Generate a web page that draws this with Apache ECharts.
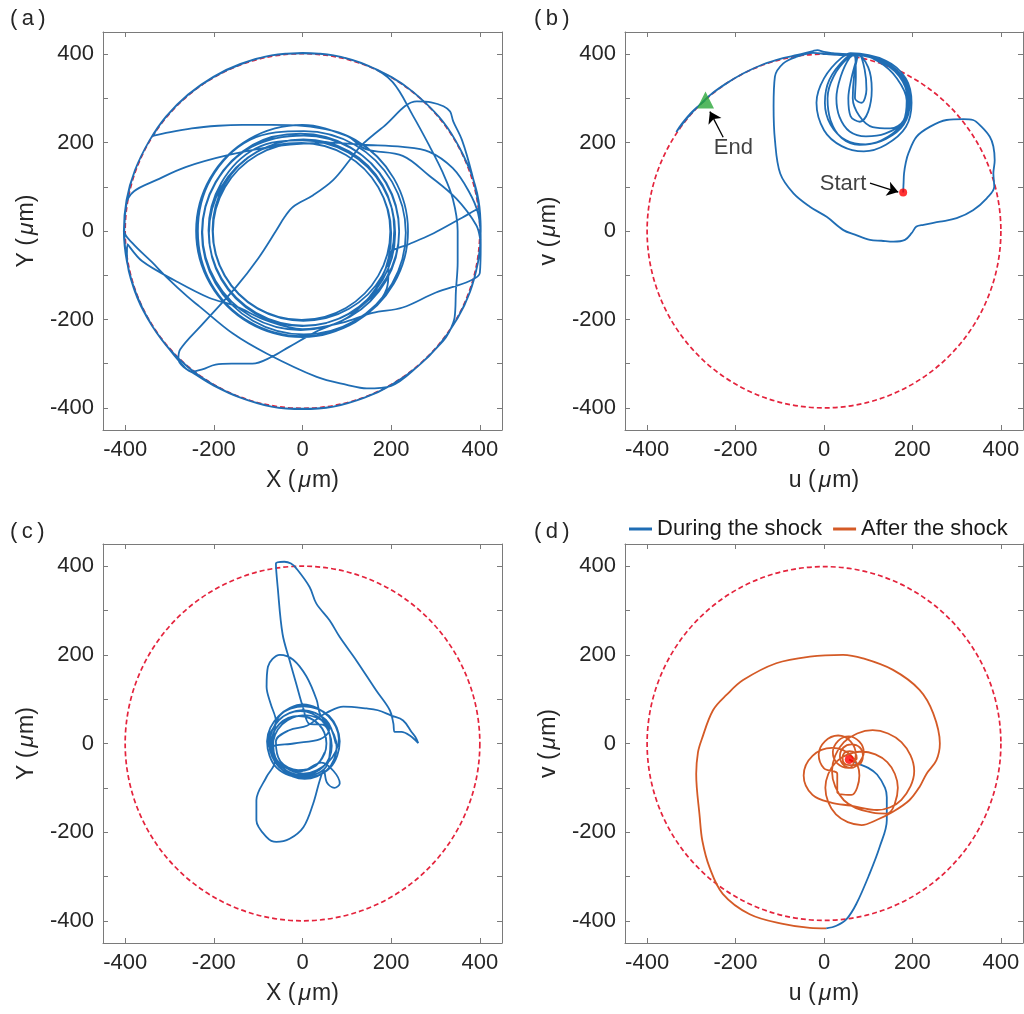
<!DOCTYPE html>
<html>
<head>
<meta charset="utf-8">
<script src="https://cdn.jsdelivr.net/npm/echarts@6/dist/echarts.min.js"></script>
<style>
  html, body { margin: 0; padding: 0; background: #fff; }
  #chart { width: 1024px; height: 1014px; }
</style>
</head>
<body>
<div id="chart"></div>
<script>
// tick positions / labels
const tickLabels = [-400, -200, 0, 200, 400];
const xTicks = [-400, -200, 0, 200, 400];
const yTicks = [-400, -300, -200, -100, 0, 100, 200, 300, 400];

// chamber wall: centre x, centre y, radius (um)
const boundary = [[0, 0, 400]];

// (a) trajectory in the lab frame
const trajA = [
  [0,-402],[70,-397],[140,-377],[201,-348],[260,-306],[308,-258],[350,-197],[378,-137],[396,-70],[402,0],[397,70],[378,137],[345,205],[308,258],[250,314],[201,348],[140,377],[70,397],[0,403],[-70,397],[-140,378],[-201,349],[-258,309],[-308,259],[-338,215],
  [-315,220],[-250,232],[-190,238],[-136,240],[-70,240],
  [0,238],[119,206],[206,119],[238,0],[206,-119],[119,-206],[0,-238],[-119,-206],[-206,-119],[-236,0],[-206,119],[-119,206],
  [3,226],[118,195],[202,111],[233,-4],[202,-119],[118,-203],[3,-234],[-112,-203],[-196,-119],[-227,-4],[-196,111],[-112,195],
  [-4,220],[107,190],[188,109],[218,-2],[188,-113],[107,-194],[-4,-224],[-115,-194],[-196,-113],[-226,-2],[-196,109],[-115,190],
  [3,216],[110,187],[189,109],[218,1],[189,-107],[110,-185],[3,-214],[-105,-185],[-183,-107],[-212,1],[-183,109],[-105,187],
  [-1,205],[104,177],[181,100],[209,-5],[181,-110],[104,-187],[-1,-215],[-106,-187],[-183,-110],[-211,-5],[-183,100],[-106,177],
  [2,207],[105,180],[180,105],[207,2],[180,-101],[105,-176],[2,-203],[-101,-176],[-176,-101],[-203,2],[-176,105],[-101,180],
  [-2,199],[98,172],[171,99],[198,-1],[171,-101],[98,-174],[-2,-201],[-102,-174],[-175,-101],[-202,-1],[-175,99],[-102,172],
  [-2,199],[98,172],[171,99],[200,-5],[178,-108],[110,-190],[30,-228],
  [-30,-262],[-70,-285],[-113,-300],[-160,-300],[-196,-302],[-226,-313],[-250,-318],[-266,-308],
  [-300,-268],[-340,-213],[-372,-150],[-394,-78],[-402,0],[-398,60],
  [-380,90],[-330,115],[-262,145],[-166,172],[-60,192],[60,200],[137,195],[226,190],[286,179],[339,142],[375,90],[396,40],
  [402,-20],[396,-70],[378,-137],[345,-205],[308,-258],[260,-306],[201,-348],[140,-377],[70,-397],[0,-403],[-70,-397],[-140,-377],[-201,-349],[-245,-322],
  [-268,-308],[-280,-290],[-276,-268],[-226,-211],[-151,-128],[-100,-62],[-60,0],[-40,32],[-21,55],[24,81],[69,115],[107,161],[130,191],[183,236],[258,293],[290,291],[318,282],[333,270],[340,248],[360,205],[382,130],[397,60],
  [402,0],[396,-70],[378,-137],[345,-205],[308,-258],[260,-306],[201,-348],[140,-377],[70,-397],[0,-402],[-70,-397],[-140,-377],[-201,-348],[-258,-308],[-308,-258],[-350,-197],[-378,-137],[-396,-70],[-403,0],[-397,70],[-378,137],[-345,205],[-308,258],[-258,308],[-201,348],[-140,377],[-70,397],[0,402],[70,397],[150,373],
  [203,337],[249,261],[286,193],[316,133],[339,73],[350,0],[350,-70],[346,-136],[343,-196],[330,-230],[316,-250],
  [260,-306],[201,-348],[140,-377],[70,-397],[0,-402],[-70,-397],[-140,-377],[-201,-348],[-258,-308],[-308,-258],[-350,-197],[-378,-137],[-396,-60],
  [-395,-30],[-362,-68],[-286,-113],[-211,-151],[-151,-170],[-80,-203],[0,-222],[90,-207],
  [158,-185],[226,-173],[301,-139],[377,-113],[400,-95],
  [402,-30],[400,40],[390,100],[378,137],[345,205],[308,258],[250,314],[201,348],[140,377],[70,397],[0,402],[-70,397],[-140,378],[-201,349],[-258,309],[-308,259],[-345,205],[-378,137],[-396,70],[-402,0],
  [-383,-28],[-340,-70],[-308,-103],[-260,-148],[-232,-171],[-157,-232],[-81,-277],[32,-330],[100,-348],[145,-356],[200,-350],
  [260,-306],[308,-258],[350,-197],[378,-137],[396,-70],[402,0],[397,50],
  [360,30],[296,-5],[240,-30],[198,-51],
  [190,-130],[120,-205],[0,-240],[-120,-208],[-208,-120],[-240,0],[-208,120],[-120,208],[0,240],[100,215],
  [143,185],[226,170],[286,125],[347,73],[392,13],[401,-20]
];

// (b) trajectory in the rotating frame
const trajB = [
  [179,87],[180,110],[181,130],[185,155],[191,176],[209,213],[240,236],[277,251],[315,253],[337,251],[356,236],[375,213],[383,191],[386,160],[383,130],[385,100],[368,74],[337,47],[300,29],[262,21],[225,14],[209,10],[198,-5],[183,-20],[157,-24],[130,-22],[104,-20],[70,-8],[44,2],[6,32],[-32,55],[-69,85],[-99,130],[-111,206],[-114,281],[-111,349],[-92,379],[-62,394],[-24,403],[6,400],[44,398],
  [60,402],[140,385],[185,345],[198,290],[185,235],[140,195],[90,180],[40,192],[0,228],[-17,290],[0,345],[40,392],
  [65,400],[138,382],[182,342],[194,290],[180,240],[140,208],[95,196],[50,205],[15,240],[2,290],[12,342],[48,390],
  [70,398],[140,380],[180,340],[192,290],[178,245],[138,220],[95,214],[58,225],[35,258],[28,300],[38,350],[58,392],
  [72,398],[135,380],[178,338],[190,285],[175,240],[130,205],[80,195],[40,210],[15,250],[8,300],[22,350],[55,392],
  [75,398],[100,370],[108,320],[100,270],[81,247],[60,260],[55,300],[62,345],[74,390],
  [78,400],[125,382],[165,345],[187,295],[180,250],[150,232],[110,235],[80,260],[65,300],[68,350],[76,395],
  [80,398],[92,365],[96,320],[85,290],[70,300],[72,350],[70,396],
  [20,402],[0,405],[-15,409],[-25,407],[-60,398],[-93,391],[-140,376],[-183,356],[-225,331],[-259,306],[-300,266],[-322,240],[-334,224],[-322,242],[-298,270],[-268,296]
];
const startB = [[179, 87]];
const endB = [[-268, 296]];
const labelsB = [{ name: 'End', value: [-205, 188] }, { name: 'Start', value: [43, 106] }];
const arrowsB = [[[-228, 212], [-258, 270]], [[104, 108], [168, 88]]];

// (c) trajectory in the lab frame
const trajC = [
  [75,0],[53,53],[0,75],[-53,53],[-75,0],[-53,-53],[0,-75],[53,-53],
  [63,5],[43,53],[-5,73],[-53,53],[-73,5],[-53,-43],[-5,-63],[43,-43],
  [70,-62],[84,-90],[72,-100],[55,-88],[48,-60],
  [39,-83],[24,-136],[2,-189],[-29,-215],[-59,-222],[-81,-211],[-104,-173],[-104,-128],[-81,-75],[-62,-40],
  [-67,-8],[-46,43],[5,64],[56,43],[77,-8],[56,-59],[5,-80],[-46,-59],
  [-70,0],[-52,44],[-8,62],[36,44],[54,0],[36,-44],[-8,-62],[-52,-44],
  [-70,-10],[-20,0],[40,10],[60,30],
  [39,68],[32,98],[9,151],[-21,189],[-51,200],[-78,173],[-81,128],[-72,90],[-60,50],
  [-78,10],[-54,-42],[2,-68],[58,-42],[82,10],[58,62],[2,88],[-54,62],
  [-80,5],[-58,-55],[4,-78],[62,-55],[84,5],[60,62],[4,84],[-52,62],
  [-66,-5],[-47,-52],[0,-71],[47,-52],[66,-5],[47,42],
  [16,44],[1,82],[-14,134],[-29,187],[-45,247],[-56,353],[-60,406],[-41,410],[-26,406],[-14,395],
  [16,353],[31,316],[61,278],[84,240],[121,188],[166,120],[197,75],[205,45],[208,26],[223,26],[242,18],[261,1],
  [255,14],[246,26],[227,52],[200,63],[170,75],[145,79],[92,83],[55,70],[39,60],
  [10,40],[-30,30],[-60,5],[-50,-40],[-10,-60],[30,-50],[50,-20]
];

// (d) trajectory in the rotating frame
const duringD = [
  [57,-36],[75,-45],[100,-55],[120,-70],[138,-100],[142,-121],[142,-173],[126,-233],[103,-294],[73,-362],[51,-396],[28,-411],[5,-417]
];
const afterD = [
  [5,-417],[-32,-416],[-93,-407],[-168,-385],[-229,-339],[-259,-279],[-275,-220],[-281,-166],[-289,-68],[-285,-20],[-277,8],[-251,75],[-220,110],[-183,143],[-108,181],[-32,196],[43,200],[88,192],[156,166],[216,121],[247,68],[262,0],[254,-38],[232,-68],[216,-98],[193,-128],[156,-154],[120,-172],
  [85,-184],[27,-160],[3,-100],[27,-42],[85,-18],[143,-42],[167,-100],[143,-158],
  [110,-156],[45,-128],[18,-62],[45,3],[110,30],[175,3],[204,-62],[175,-127],[120,-150],
  [60,-140],[18,-134],[-26,-116],[-46,-72],[-26,-28],[18,-10],[62,-28],[80,-72],[62,-116],[30,-110],
  [30,-68],[0,-56],[-12,-25],[2,5],[32,18],[60,5],[72,-25],[58,-55],
  [55,-55],[30,-45],[20,-20],[32,6],[56,16],[80,4],[90,-20],[78,-45],
  [62,-55],[43,-47],[36,-28],[44,-9],[62,-2],[81,-9],[88,-28],[80,-47],
  [58,-49],[46,-45],[42,-33],[46,-21],[58,-17],[70,-21],[74,-33],[66,-40],[57,-36]
];
const startD = [[57, -36]];

const panelLabels = ['(\u2009a\u2009)', '(\u2009b\u2009)', '(\u2009c\u2009)', '(\u2009d\u2009)'];
const axisNames = [['X', 'Y'], ['u', 'v'], ['X', 'Y'], ['u', 'v']];
const legendNames = ['During the shock', 'After the shock'];

const FONT = 'Liberation Sans, Arial, Helvetica, sans-serif';
const TXT = '#262626';
const AX = '#7a7a7a';
const BLUE = '#1f6db4';
const ORANGE = '#d45a26';
const RED = '#e4233c';

const grids = [
  { left: 103, top: 32, width: 399, height: 398 },
  { left: 625, top: 32, width: 398, height: 398 },
  { left: 103, top: 544, width: 399, height: 399 },
  { left: 625, top: 544, width: 398, height: 399 }
];

const nameStyle = {
  fontSize: 23, color: TXT, fontFamily: FONT,
  rich: { mu: { fontStyle: 'italic', fontSize: 23, color: TXT, fontFamily: FONT, padding: [0, 1, 0, 3] } }
};

let xAxes = [], yAxes = [];
grids.forEach((g, i) => {
  const base = {
    gridIndex: i, type: 'value', min: -450, max: 450,
    splitLine: { show: false },
    axisLine: { show: true, onZero: false, lineStyle: { color: AX, width: 1 } }
  };
  xAxes.push({
    ...base, position: 'bottom',
    axisTick: { show: true, inside: true, length: 5, customValues: xTicks, lineStyle: { color: AX } },
    axisLabel: { customValues: tickLabels, margin: 9, fontSize: 22, color: TXT, fontFamily: FONT },
    name: axisNames[i][0] + ' ({mu|μ}m)', nameLocation: 'middle', nameGap: 39, nameTextStyle: nameStyle
  });
  xAxes.push({
    ...base, position: 'top',
    axisTick: { show: true, inside: true, length: 5, customValues: xTicks, lineStyle: { color: AX } },
    axisLabel: { show: false }
  });
  yAxes.push({
    ...base, position: 'left',
    axisTick: { show: true, inside: true, length: 5, customValues: yTicks, lineStyle: { color: AX } },
    axisLabel: { customValues: tickLabels, margin: 9, fontSize: 22, color: TXT, fontFamily: FONT },
    name: axisNames[i][1] + ' ({mu|μ}m)', nameLocation: 'middle', nameGap: 65, nameTextStyle: nameStyle
  });
  yAxes.push({
    ...base, position: 'right',
    axisTick: { show: true, inside: true, length: 5, customValues: yTicks, lineStyle: { color: AX } },
    axisLabel: { show: false }
  });
});

// dashed wall, drawn through the axis scales
const wallSeries = grids.map((g, i) => ({
  type: 'custom', xAxisIndex: 2 * i, yAxisIndex: 2 * i, data: boundary, silent: true, z: 1,
  renderItem: (params, api) => {
    const c = api.coord([api.value(0), api.value(1)]);
    const r = api.size([api.value(2), api.value(2)])[0];
    return {
      type: 'circle', shape: { cx: c[0], cy: c[1], r: r },
      style: { fill: 'none', stroke: RED, lineWidth: 1.7, lineDash: [5, 3] }
    };
  }
}));

const traj = (data, i, color, name) => ({
  type: 'line', name: name, data: data, xAxisIndex: 2 * i, yAxisIndex: 2 * i,
  showSymbol: false, symbol: 'none', smooth: 0.35, z: 3,
  lineStyle: { color: color, width: 1.8 }, itemStyle: { color: color }
});

const option = {
  animation: false,
  backgroundColor: '#fff',
  title: panelLabels.map((t, k) => ({
    text: t, left: [5, 529, 5, 529][k], top: [3, 3, 516, 516][k],
    textStyle: { fontSize: 22, fontWeight: 'normal', color: TXT, fontFamily: FONT }
  })),
  legend: {
    data: legendNames, left: 629, top: 518, icon: 'rect', itemWidth: 23, itemHeight: 3, itemGap: 11,
    padding: 0, textStyle: { fontSize: 22, color: '#1a1a1a', fontFamily: FONT }
  },
  grid: grids,
  xAxis: xAxes,
  yAxis: yAxes,
  series: [
    ...wallSeries,
    traj(trajA, 0, BLUE),
    {
      ...traj(trajB, 1, BLUE),
      markLine: {
        silent: true, symbol: ['none', 'arrow'], symbolSize: 11,
        lineStyle: { color: '#000', width: 1.3, type: 'solid' }, label: { show: false },
        data: arrowsB.map(a => [{ coord: a[0] }, { coord: a[1] }])
      }
    },
    { type: 'scatter', xAxisIndex: 2, yAxisIndex: 2, data: startB, symbolSize: 8, itemStyle: { color: '#ff0000' }, z: 5 },
    { type: 'scatter', xAxisIndex: 2, yAxisIndex: 2, data: endB, symbol: 'triangle', symbolSize: 17, itemStyle: { color: '#2aa63a' }, z: 5 },
    {
      type: 'scatter', xAxisIndex: 2, yAxisIndex: 2, data: labelsB, symbolSize: 1, itemStyle: { color: 'rgba(0,0,0,0)' }, z: 6,
      label: { show: true, position: 'inside', formatter: p => p.name, fontSize: 22, color: '#111', fontFamily: FONT }
    },
    traj(trajC, 2, BLUE),
    traj(duringD, 3, BLUE, legendNames[0]),
    traj(afterD, 3, ORANGE, legendNames[1]),
    { type: 'scatter', xAxisIndex: 6, yAxisIndex: 6, data: startD, symbolSize: 9, itemStyle: { color: '#ff0000' }, z: 5 }
  ]
};

const chart = echarts.init(document.getElementById('chart'));
chart.setOption(option);
</script>
</body>
</html>
